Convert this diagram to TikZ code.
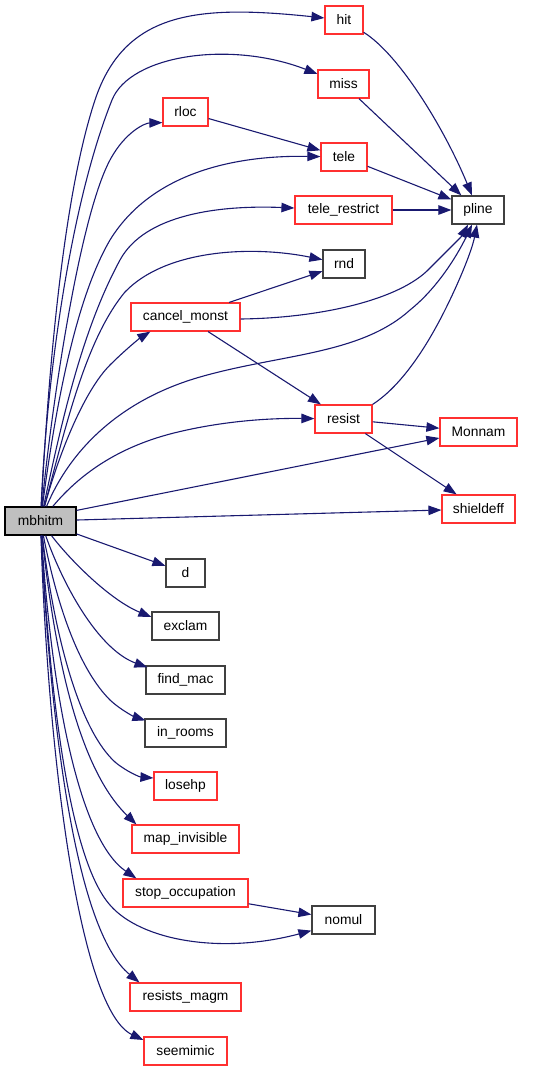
\documentclass[tikz,border=0pt]{standalone}
\usepackage{fontspec}
\setmainfont{Liberation Sans}
\usetikzlibrary{arrows.meta,calc}
\definecolor{edgeblue}{HTML}{191970}
\definecolor{redline}{HTML}{FF3030}
\definecolor{darkline}{HTML}{404040}
\definecolor{rootfill}{HTML}{BFBFBF}
\tikzset{
  fn/.style={rectangle, draw, line width=1.2pt, minimum height=28pt, inner sep=0pt,
    font=\fontsize{13.8}{16}\selectfont},
  rn/.style={fn, draw=redline},
  bn/.style={fn, draw=darkline},
  root/.style={fn, draw=black, fill=rootfill},
  ed/.style={draw=edgeblue, line width=1.1pt, -{Triangle[length=13pt,width=9.5pt]}, edgeblue}
}
\begin{document}
\begin{tikzpicture}[x=1pt,y=-1pt]
\useasboundingbox (0,0) rectangle (533,1071);
% nodes
\node[root, minimum width=71] (mbhitm) at (40.5,521) {mbhitm};
\node[rn, minimum width=38] (hit) at (344,20) {hit};
\node[rn, minimum width=51] (miss) at (343.5,84) {miss};
\node[rn, minimum width=45] (rloc) at (185.5,112) {rloc};
\node[rn, minimum width=46] (tele) at (344,157) {tele};
\node[rn, minimum width=97] (tele_restrict) at (343.5,210) {tele\_restrict};
\node[bn, minimum width=52] (pline) at (478,210) {pline};
\node[bn, minimum width=42] (rnd) at (344,264) {rnd};
\node[rn, minimum width=109] (cancel_monst) at (185.5,317) {cancel\_monst};
\node[rn, minimum width=57] (resist) at (343.5,419) {resist};
\node[rn, minimum width=77] (Monnam) at (478.5,432) {Monnam};
\node[rn, minimum width=73] (shieldeff) at (478.5,509) {shieldeff};
\node[bn, minimum width=39] (d) at (185.5,573) {d};
\node[bn, minimum width=67] (exclam) at (185.5,626) {exclam};
\node[bn, minimum width=79] (find_mac) at (185.5,680) {find\_mac};
\node[bn, minimum width=81] (in_rooms) at (185.5,733) {in\_rooms};
\node[rn, minimum width=63] (losehp) at (185.5,786) {losehp};
\node[rn, minimum width=107] (map_invisible) at (185.5,839) {map\_invisible};
\node[rn, minimum width=125] (stop_occupation) at (185.5,893) {stop\_occupation};
\node[bn, minimum width=63] (nomul) at (343.5,920) {nomul};
\node[rn, minimum width=111] (resists_magm) at (185.5,997) {resists\_magm};
\node[rn, minimum width=83] (seemimic) at (185.5,1051) {seemimic};
% edges from mbhitm (upper fan)
\draw[ed] (mbhitm) .. controls (48,380) and (62,200) .. (95,100)
  .. controls (125,10) and (200,5) .. (hit);
\draw[ed] (mbhitm) .. controls (46,390) and (68,210) .. (112,100)
  .. controls (130,55) and (230,40) .. (miss);
\draw[ed] (mbhitm) .. controls (50,420) and (78,220) .. (110,160)
  .. controls (125,132) and (145,123) .. ($(rloc.south west)+(0,-4)$);
\draw[ed] (mbhitm) .. controls (55,410) and (75,300) .. (110,240)
  .. controls (150,175) and (230,155) .. (tele);
\draw[ed] (mbhitm) .. controls (62,420) and (82,330) .. (120,260)
  .. controls (145,214) and (220,205) .. (tele_restrict);
\draw[ed] (mbhitm) .. controls (65,430) and (85,340) .. (125,292)
  .. controls (165,250) and (250,245) .. (rnd);
\draw[ed] (mbhitm) .. controls (60,450) and (85,390) .. (110,365)
  .. controls (125,350) and (140,338) .. ($(cancel_monst.south west)+(20,0)$);
\draw[ed] (mbhitm) .. controls (70,450) and (120,400) .. (200,377)
  .. controls (280,354) and (360,355) .. (410,310)
  .. controls (440,286) and (460,250) .. ($(pline.south)+(-6,0)$);
\draw[ed] (mbhitm) .. controls (75,480) and (110,450) .. (170,434)
  .. controls (220,421) and (270,418) .. (resist);
\draw[ed] ($(mbhitm.north east)+(0,4)$) -- ($(Monnam.west)+(0,6)$);
\draw[ed] (mbhitm) -- (shieldeff);
% edges from mbhitm (lower fan)
\draw[ed] (mbhitm) -- (d);
\draw[ed] (mbhitm) .. controls (70,560) and (110,600) .. ($(exclam.west)+(0,-9)$);
\draw[ed] (mbhitm) .. controls (65,590) and (100,650) .. ($(find_mac.north west)+(2,2)$);
\draw[ed] (mbhitm) .. controls (58,610) and (80,670) .. (110,700)
  .. controls (122,711) and (135,717) .. ($(in_rooms.north west)+(1,2)$);
\draw[ed] (mbhitm) .. controls (55,640) and (80,730) .. (115,762)
  .. controls (127,772) and (140,777) .. ($(losehp.west)+(0,-8)$);
\draw[ed] (mbhitm) .. controls (55,660) and (80,770) .. ($(map_invisible.north west)+(5,0)$);
\draw[ed] (mbhitm) .. controls (52,700) and (80,840) .. ($(stop_occupation.north west)+(14,0)$);
\draw[ed] (mbhitm) .. controls (50,700) and (70,860) .. (110,905)
  .. controls (140,940) and (220,955) .. ($(nomul.south west)+(0,-4)$);
\draw[ed] (mbhitm) .. controls (50,720) and (75,930) .. ($(resists_magm.north west)+(10,0)$);
\draw[ed] (mbhitm) .. controls (48,760) and (80,1010) .. ($(seemimic.west)+(0,-11)$);
% other edges
\draw[ed] (rloc) -- (tele);
\draw[ed] (hit) .. controls (400,55) and (445,130) .. ($(pline.north)+(-6,0)$);
\draw[ed] (miss) -- ($(pline.north west)+(10,0)$);
\draw[ed] (tele) -- (pline);
\draw[ed] (tele_restrict) -- (pline);
\draw[ed] (cancel_monst) -- (rnd);
\draw[ed] (cancel_monst) -- (resist);
\draw[ed] ($(cancel_monst.east)+(0,2)$) .. controls (320,318) and (400,300) .. (430,268)
  .. controls (450,248) and (462,236) .. ($(pline.south)+(-10,0)$);
\draw[ed] (resist.north east) .. controls (395,390) and (420,360) .. (445,310)
  .. controls (460,280) and (472,250) .. ($(pline.south)+(-1,0)$);
\draw[ed] (resist) -- (Monnam);
\draw[ed] (resist) -- (shieldeff);
\draw[ed] (stop_occupation) -- (nomul);
\end{tikzpicture}
\end{document}
